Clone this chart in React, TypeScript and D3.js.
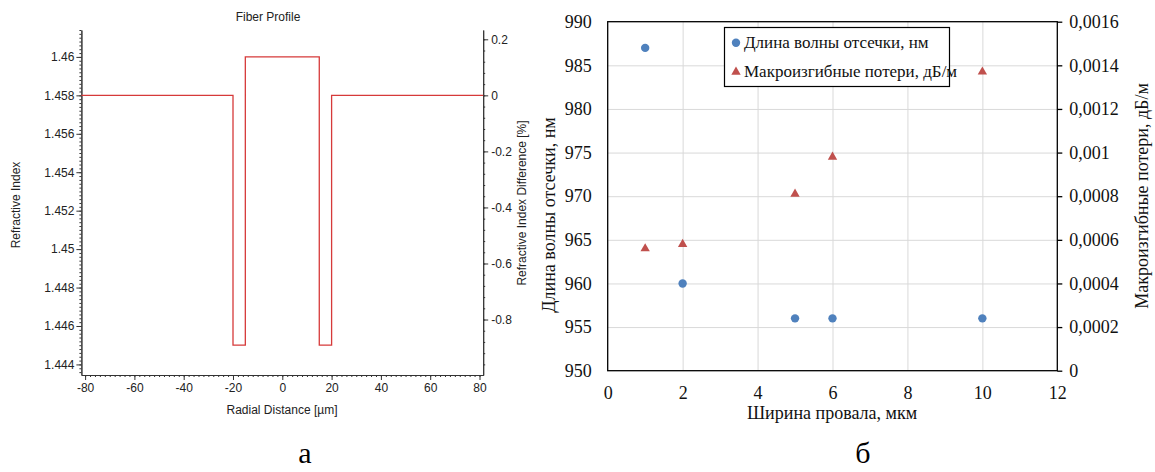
import React, { useEffect, useRef } from 'react'
import * as d3 from 'd3'

// panel "а" - fiber refractive index profile (step points, radius in µm)
const profileRadius = [-81.5, -20, -15, 15, 20, 81.5]
const profileIndex = [1.458, 1.445, 1.46, 1.445, 1.458, 1.458]
const claddingIndex = 1.458
const radiusTicks = [-80, -60, -40, -20, 0, 20, 40, 60, 80]
const indexTicks = [1.444, 1.446, 1.448, 1.45, 1.452, 1.454, 1.456, 1.458, 1.46]
const diffTicks = [-0.8, -0.6, -0.4, -0.2, 0, 0.2]

// panel "б" - cutoff wavelength and macrobend loss vs dip width
const dipWidth = [1, 2, 5, 6, 10]
const cutoffWavelength = [987, 960, 956, 956, 956]
const bendLoss = [0.00056, 0.00058, 0.00081, 0.00098, 0.00137]
const widthTicks = [0, 2, 4, 6, 8, 10, 12]
const wavelengthTicks = [950, 955, 960, 965, 970, 975, 980, 985, 990]
const lossTicks = [0, 0.0002, 0.0004, 0.0006, 0.0008, 0.001, 0.0012, 0.0014, 0.0016]
const legendLabels = ['Длина волны отсечки, нм', 'Макроизгибные потери, дБ/м']

const W = 1155
const H = 472
const sans = "'Liberation Sans', Arial, sans-serif"
const serif = "'Liberation Serif', 'Times New Roman', serif"
const blue = '#4f81bd'
const red = '#c0504d'

const dotLocale = d3.formatLocale({ decimal: '.', thousands: '', grouping: [3], currency: ['', ''], minus: '-' })
const commaLocale = d3.formatLocale({ decimal: ',', thousands: ' ', grouping: [3], currency: ['', ''], minus: '-' })

const App = () => {
  const ref = useRef(null)

  useEffect(() => {
    const svg = d3.select(ref.current)
    svg.selectAll('*').remove()

    // ---------- left panel ----------
    const x = d3.scaleLinear().domain([-81.5, 81.5]).range([81.4, 483.2])
    const y = d3.scaleLinear().domain([1.44345, 1.4614]).range([375, 30])
    const diffDomain = y.domain().map(n => (n / claddingIndex - 1) * 100)
    const y2 = d3.scaleLinear().domain(diffDomain).range([375, 30])
    const fmt = dotLocale.format('~g')

    const a = svg.append('g').attr('font-family', sans)
    const axisColor = '#333'

    const styleAxis = (g, size) => {
      g.attr('font-family', sans).attr('font-size', size)
      g.selectAll('.domain').attr('stroke', axisColor)
      g.selectAll('.tick line').attr('stroke', axisColor)
      g.selectAll('text').attr('fill', '#222')
    }

    // minor ticks
    a.append('g')
      .attr('transform', `translate(${x.range()[0]},0)`)
      .call(d3.axisLeft(y).tickValues(d3.range(1.4436, 1.4614, 0.0002)).tickSize(2).tickFormat(() => '').tickSizeOuter(0))
      .call(g => styleAxis(g, 11))
    a.append('g')
      .attr('transform', `translate(0,${y.range()[0]})`)
      .call(d3.axisBottom(x).tickValues(d3.range(-80, 81, 2)).tickSize(2).tickFormat(() => '').tickSizeOuter(0))
      .call(g => styleAxis(g, 11))
    a.append('g')
      .attr('transform', `translate(${x.range()[1]},0)`)
      .call(d3.axisRight(y2).tickValues(d3.range(-0.96, 0.23, 0.04)).tickSize(2).tickFormat(() => '').tickSizeOuter(0))
      .call(g => styleAxis(g, 11))

    // major ticks
    a.append('g')
      .attr('transform', `translate(${x.range()[0]},0)`)
      .call(d3.axisLeft(y).tickValues(indexTicks).tickFormat(fmt).tickSize(5).tickPadding(2).tickSizeOuter(0))
      .call(g => styleAxis(g, 12))
    a.append('g')
      .attr('transform', `translate(0,${y.range()[0]})`)
      .call(d3.axisBottom(x).tickValues(radiusTicks).tickFormat(fmt).tickSize(5).tickPadding(3).tickSizeOuter(0))
      .call(g => styleAxis(g, 12))
    a.append('g')
      .attr('transform', `translate(${x.range()[1]},0)`)
      .call(d3.axisRight(y2).tickValues(diffTicks).tickFormat(fmt).tickSize(5).tickPadding(3).tickSizeOuter(0))
      .call(g => styleAxis(g, 12))

    const profile = d3.line()
      .x(d => x(d[0]))
      .y(d => y(d[1]))
      .curve(d3.curveStepAfter)
    a.append('path')
      .datum(profileRadius.map((r, i) => [r, profileIndex[i]]))
      .attr('d', profile)
      .attr('fill', 'none')
      .attr('stroke', '#d63a3a')
      .attr('stroke-width', 1.3)

    a.append('text')
      .attr('x', 268).attr('y', 21)
      .attr('text-anchor', 'middle')
      .attr('font-size', 12).attr('fill', '#222')
      .text('Fiber Profile')
    a.append('text')
      .attr('x', 282).attr('y', 414)
      .attr('text-anchor', 'middle')
      .attr('font-size', 12).attr('fill', '#222')
      .text('Radial Distance [µm]')
    a.append('text')
      .attr('transform', 'translate(16,205) rotate(-90)')
      .attr('text-anchor', 'middle').attr('dominant-baseline', 'central')
      .attr('font-size', 12).attr('fill', '#222')
      .text('Refractive Index')
    a.append('text')
      .attr('transform', 'translate(522,203) rotate(-90)')
      .attr('text-anchor', 'middle').attr('dominant-baseline', 'central')
      .attr('font-size', 12).attr('fill', '#222')
      .text('Refractive Index Difference [%]')

    // ---------- right panel ----------
    const bx = d3.scaleLinear().domain([0, 12]).range([607.7, 1057.3])
    const by = d3.scaleLinear().domain([950, 990]).range([370.7, 21.7])
    const by2 = d3.scaleLinear().domain([0, 0.0016]).range([370.7, 21.7])
    const lossFmt = commaLocale.format('.4~f')

    const b = svg.append('g').attr('font-family', serif)

    const serifTicks = g => {
      g.attr('font-family', serif).attr('font-size', 18)
      g.selectAll('text')
        .attr('font-family', serif)
        .attr('fill', '#111')
    }

    b.append('g')
      .attr('transform', `translate(0,${by.range()[0]})`)
      .call(d3.axisBottom(bx).tickValues(widthTicks.slice(1, -1)).tickSize(-(by.range()[0] - by.range()[1])).tickFormat(() => ''))
      .call(g => g.select('.domain').remove())
      .call(g => g.selectAll('.tick line').attr('stroke', '#d9d9d9'))
    b.append('g')
      .attr('transform', `translate(${bx.range()[0]},0)`)
      .call(d3.axisLeft(by).tickValues(wavelengthTicks.slice(1, -1)).tickSize(-(bx.range()[1] - bx.range()[0])).tickFormat(() => ''))
      .call(g => g.select('.domain').remove())
      .call(g => g.selectAll('.tick line').attr('stroke', '#d9d9d9'))

    b.append('rect')
      .attr('x', bx.range()[0]).attr('y', by.range()[1])
      .attr('width', bx.range()[1] - bx.range()[0])
      .attr('height', by.range()[0] - by.range()[1])
      .attr('fill', 'none').attr('stroke', '#000').attr('stroke-width', 1.3)

    b.append('g')
      .attr('transform', `translate(${bx.range()[0]},0)`)
      .call(d3.axisLeft(by).tickValues(wavelengthTicks).tickSize(0).tickPadding(16))
      .call(g => g.select('.domain').remove())
      .call(serifTicks)

    b.append('g')
      .attr('transform', `translate(0,${by.range()[0]})`)
      .call(d3.axisBottom(bx).tickValues(widthTicks).tickSize(0).tickPadding(16))
      .call(g => g.select('.domain').remove())
      .call(serifTicks)

    b.append('g')
      .attr('transform', `translate(${bx.range()[1]},0)`)
      .call(d3.axisRight(by2).tickValues(lossTicks).tickFormat(lossFmt).tickSize(5).tickPadding(7).tickSizeOuter(0))
      .call(g => g.select('.domain').remove())
      .call(g => g.selectAll('.tick line').attr('stroke', '#000').attr('stroke-width', 1.3))
      .call(serifTicks)

    b.selectAll('circle.cut')
      .data(dipWidth)
      .join('circle')
      .attr('class', 'cut')
      .attr('cx', d => bx(d))
      .attr('cy', (d, i) => by(cutoffWavelength[i]))
      .attr('r', 4.2)
      .attr('fill', blue)

    const tri = d3.symbol().type(d3.symbolTriangle).size(38)
    b.selectAll('path.loss')
      .data(dipWidth)
      .join('path')
      .attr('class', 'loss')
      .attr('d', tri)
      .attr('transform', (d, i) => `translate(${bx(d)},${by2(bendLoss[i])})`)
      .attr('fill', red)

    // legend
    const lg = b.append('g').attr('transform', 'translate(724.5,27.5)')
    lg.append('rect')
      .attr('width', 225).attr('height', 59)
      .attr('fill', '#fff').attr('stroke', '#000').attr('stroke-width', 1.2)
    lg.append('circle').attr('cx', 11.5).attr('cy', 15.3).attr('r', 4.2).attr('fill', blue)
    lg.append('path').attr('d', tri).attr('transform', 'translate(11.5,44.5)').attr('fill', red)
    lg.selectAll('text')
      .data(legendLabels)
      .join('text')
      .attr('x', 19.5)
      .attr('y', (d, i) => 15.3 + i * 29)
      .attr('dominant-baseline', 'central')
      .attr('font-size', 17)
      .attr('fill', '#111')
      .text(d => d)

    b.append('text')
      .attr('x', 832).attr('y', 419)
      .attr('text-anchor', 'middle')
      .attr('font-size', 18).attr('fill', '#111')
      .text('Ширина провала, мкм')
    b.append('text')
      .attr('transform', 'translate(549,215) rotate(-90)')
      .attr('text-anchor', 'middle').attr('dominant-baseline', 'central')
      .attr('font-size', 18).attr('fill', '#111')
      .text('Длина волны отсечки, нм')
    b.append('text')
      .attr('transform', 'translate(1142,196) rotate(-90)')
      .attr('text-anchor', 'middle').attr('dominant-baseline', 'central')
      .attr('font-size', 18).attr('fill', '#111')
      .text('Макроизгибные потери, дБ/м')

    // panel letters
    svg.append('text')
      .attr('x', 305).attr('y', 463)
      .attr('text-anchor', 'middle')
      .attr('font-family', serif).attr('font-size', 30).attr('fill', '#000')
      .text('а')
    svg.append('text')
      .attr('x', 863).attr('y', 463)
      .attr('text-anchor', 'middle')
      .attr('font-family', serif).attr('font-size', 30).attr('fill', '#000')
      .text('б')
  }, [])

  return (
    <svg
      ref={ref}
      width={W}
      height={H}
      style={{ position: 'absolute', left: 0, top: 0, background: '#fff' }}
    />
  )
}

export default App
